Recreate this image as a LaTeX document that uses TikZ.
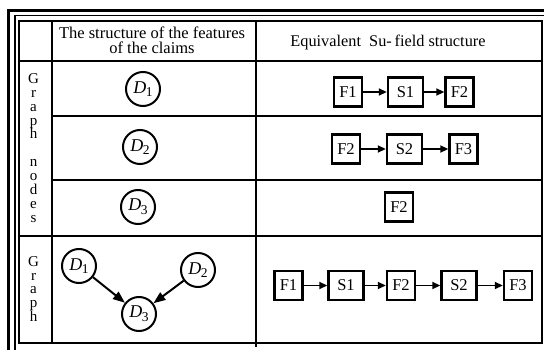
\documentclass[tikz,border=0pt]{standalone}
\usepackage{fontspec}
\setmainfont{Liberation Serif}
\usetikzlibrary{arrows.meta}
\newcommand\dlab[1]{\textit{D}\kern-0.5pt\raisebox{-0.45ex}{\fontsize{13.5}{13.5}\selectfont #1}}
\begin{document}
\begin{tikzpicture}[x=1pt,y=-1pt,
  grid/.style={line width=2.6pt},
  dnode/.style={circle,draw,line width=2pt,minimum size=34pt,inner sep=0pt,font=\fontsize{18}{18}\selectfont},
  fbox/.style={draw,line width=2.4pt,minimum width=28pt,minimum height=29pt,inner sep=0pt,font=\fontsize{16.5}{16.5}\selectfont},
  sbox/.style={fbox,minimum width=35pt},
  link/.style={line width=1.8pt,-{Triangle[length=8pt,width=7pt]}},
  dlink/.style={line width=2pt,-{Triangle[length=12pt,width=9pt]}},
  vtext/.style={font=\fontsize{15}{13.9}\selectfont,align=center,inner sep=0pt},
]
\useasboundingbox (0,0) rectangle (544,350);
% outer double frame
\draw[line width=3pt] (8.5,350) -- (8.5,10.5) -- (544,10.5);
\draw[line width=1.2pt] (15,350) -- (15,15.5) -- (544,15.5);
% table grid
\draw[grid] (19,21) rectangle (542,343);
\draw[grid] (52,21) -- (52,343);
\draw[grid] (256,21) -- (256,347);
\draw[grid] (19,61) -- (542,61);
\draw[grid] (52,116) -- (542,116);
\draw[grid] (52,180) -- (542,180);
\draw[grid] (19,236) -- (542,236);
% headers
\node[font=\fontsize{16.5}{15.5}\selectfont,align=center,inner sep=0pt] (h1) at (152,40.5) {The structure of the features\\of the claims};
\node[font=\fontsize{16.3}{16.3}\selectfont,inner sep=0pt] (h2) at (388,42) {Equivalent\ \ Su-\,field structure};
% row labels
\node[vtext] (v1) at (33.5,148) {G\\r\\a\\p\\h\\\mbox{}\\n\\o\\d\\e\\s};
\node[vtext] (v2) at (33.5,289) {G\\r\\a\\p\\h};
% single nodes
\node[dnode] (d1) at (143,89) {\dlab{1}};
\node[dnode] (d2) at (140,147) {\dlab{2}};
\node[dnode] (d3) at (138,207) {\dlab{3}};
% graph
\node[dnode] (g1) at (79,266) {\dlab{1}};
\node[dnode] (g2) at (198,270) {\dlab{2}};
\node[dnode] (g3) at (139,314) {\dlab{3}};
\draw[dlink] (g1) -- (g3);
\draw[dlink] (g2) -- (g3);
% Su-field structures
\node[fbox] (a1) at (348,92) {F1};
\node[sbox] (a2) at (405.5,92) {S1};
\node[fbox] (a3) at (459.5,92) {F2};
\draw[link] (a1) -- (a2);
\draw[link] (a2) -- (a3);
\node[fbox] (b1) at (346,149) {F2};
\node[sbox] (b2) at (404.5,149) {S2};
\node[fbox] (b3) at (463.5,149) {F3};
\draw[link] (b1) -- (b2);
\draw[link] (b2) -- (b3);
\node[fbox] (c1) at (399,207) {F2};
\node[fbox] (e1) at (288.5,285.5) {F1};
\node[sbox] (e2) at (346,285.5) {S1};
\node[fbox] (e3) at (401,285.5) {F2};
\node[sbox] (e4) at (459,285.5) {S2};
\node[fbox] (e5) at (518,285.5) {F3};
\draw[link] (e1) -- (e2);
\draw[link] (e2) -- (e3);
\draw[link] (e3) -- (e4);
\draw[link] (e4) -- (e5);
\end{tikzpicture}
\end{document}
